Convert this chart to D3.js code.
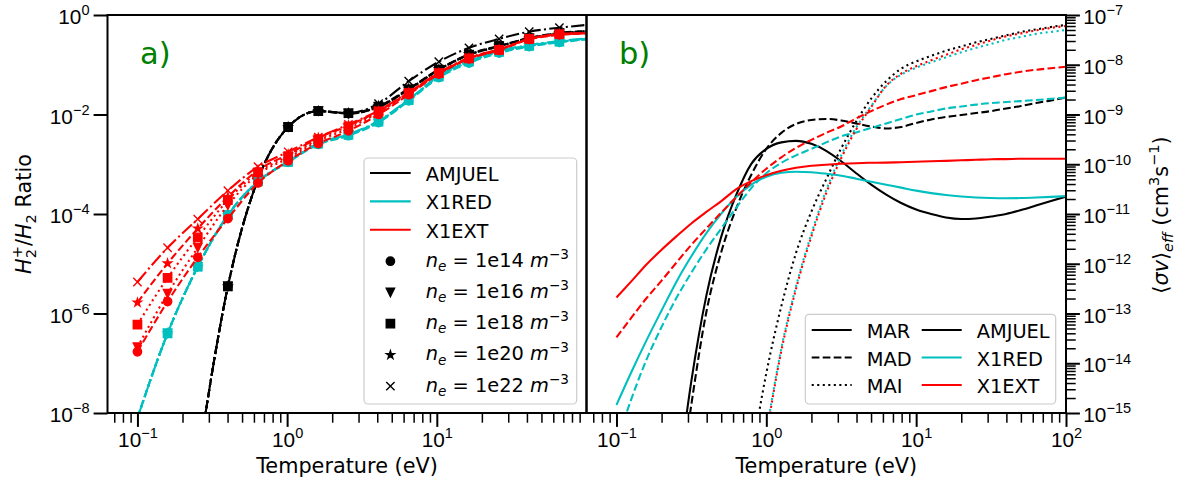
<!DOCTYPE html>
<html>
<head>
<meta charset="utf-8">
<script src="https://cdn.jsdelivr.net/npm/d3@7/dist/d3.min.js"></script>
<style>
  html, body { margin: 0; padding: 0; background: #ffffff; }
  svg { display: block; font-family: "DejaVu Sans", sans-serif; }
  text { white-space: pre; }
</style>
</head>
<body>
<svg id="fig" width="1183" height="483"></svg>
<script>
// ---------- Panel a): H2+/H2 ratio against electron temperature ----------
const ratioT = [0.1, 0.159, 0.253, 0.402, 0.639, 1.016, 1.615, 2.568, 4.081, 6.488, 10.31, 16.40, 26.07, 41.44, 65.9];
const ratioLineEndT = 100;           // lines continue past the last marker to here
const densityLabels = ["1e14", "1e16", "1e18", "1e20", "1e22"];
const modelNames = ["AMJUEL", "X1RED", "X1EXT"];

// rows: n_e = 1e14, 1e16, 1e18, 1e20, 1e22 ; last value of each row is at ratioLineEndT
const ratioAMJUEL = [
  [null, null, 1e-9, 3.5e-6, 5.0e-4, 5.6e-3, 1.17e-2, 1.04e-2, 1.41e-2, 3.16e-2, 7.9e-2, 0.158, 0.234, 0.339, 0.427, 0.468],
  [null, null, 1e-9, 3.5e-6, 5.0e-4, 5.6e-3, 1.17e-2, 1.05e-2, 1.42e-2, 3.18e-2, 7.9e-2, 0.158, 0.234, 0.339, 0.427, 0.468],
  [null, null, 1e-9, 3.5e-6, 5.0e-4, 5.6e-3, 1.17e-2, 1.06e-2, 1.44e-2, 3.2e-2, 8.0e-2, 0.16, 0.236, 0.34, 0.43, 0.47],
  [null, null, 1e-9, 3.5e-6, 5.0e-4, 5.6e-3, 1.17e-2, 1.06e-2, 1.48e-2, 3.3e-2, 8.1e-2, 0.162, 0.24, 0.345, 0.435, 0.475],
  [null, null, 1e-9, 3.5e-6, 5.0e-4, 5.6e-3, 1.17e-2, 1.07e-2, 1.66e-2, 4.68e-2, 0.115, 0.219, 0.331, 0.462, 0.556, 0.631]
];
const ratioX1RED = [
  [7.9e-9, 4.0e-7, 8.7e-6, 9.5e-5, 4.5e-4, 1.10e-3, 2.5e-3, 3.75e-3, 6.9e-3, 1.88e-2, 5.5e-2, 0.108, 0.172, 0.232, 0.282, 0.322],
  [7.9e-9, 4.0e-7, 8.7e-6, 9.5e-5, 4.5e-4, 1.12e-3, 2.6e-3, 3.9e-3, 7.2e-3, 1.95e-2, 5.8e-2, 0.115, 0.182, 0.24, 0.29, 0.33],
  [7.9e-9, 4.0e-7, 8.7e-6, 9.5e-5, 4.5e-4, 1.12e-3, 2.6e-3, 3.9e-3, 7.2e-3, 1.95e-2, 5.8e-2, 0.115, 0.182, 0.24, 0.29, 0.33],
  [7.9e-9, 4.0e-7, 8.7e-6, 9.5e-5, 4.5e-4, 1.12e-3, 2.6e-3, 3.9e-3, 7.3e-3, 1.97e-2, 5.9e-2, 0.117, 0.185, 0.243, 0.293, 0.333],
  [7.9e-9, 4.0e-7, 8.7e-6, 9.5e-5, 4.6e-4, 1.14e-3, 2.65e-3, 4.0e-3, 7.5e-3, 2.0e-2, 6.0e-2, 0.12, 0.19, 0.25, 0.3, 0.34]
];
const ratioX1EXT = [
  [1.7e-7, 1.74e-6, 1.35e-5, 8.1e-5, 4.2e-4, 1.17e-3, 2.6e-3, 4.7e-3, 1.0e-2, 2.5e-2, 6.5e-2, 0.132, 0.195, 0.324, 0.398, 0.427],
  [2.1e-7, 2.5e-6, 2.1e-5, 1.5e-4, 6.3e-4, 1.32e-3, 2.95e-3, 5.2e-3, 1.1e-2, 2.6e-2, 6.6e-2, 0.132, 0.2, 0.33, 0.41, 0.43],
  [6.0e-7, 5.2e-6, 3.4e-5, 1.9e-4, 6.9e-4, 1.45e-3, 3.2e-3, 5.8e-3, 1.15e-2, 2.7e-2, 6.8e-2, 0.135, 0.2, 0.33, 0.41, 0.43],
  [1.66e-6, 1.02e-5, 5.1e-5, 2.2e-4, 7.6e-4, 1.58e-3, 3.4e-3, 6.0e-3, 1.17e-2, 2.75e-2, 6.8e-2, 0.135, 0.2, 0.33, 0.41, 0.43],
  [4.3e-6, 2.1e-5, 7.9e-5, 2.95e-4, 8.9e-4, 1.78e-3, 3.5e-3, 6.3e-3, 1.2e-2, 2.8e-2, 6.9e-2, 0.138, 0.204, 0.33, 0.41, 0.43]
];

// ---------- Panel b): effective rate coefficients <sigma v>_eff (cm^3 s^-1) ----------
const rateT = [0.1, 0.126, 0.158, 0.2, 0.251, 0.316, 0.398, 0.501, 0.631, 0.794,
               1.0, 1.26, 1.58, 2.0, 2.51, 3.16, 3.98, 5.01, 6.31, 7.94,
               10, 12.6, 15.8, 20, 25.1, 31.6, 39.8, 50.1, 63.1, 79.4, 100];
const rateProcesses = ["MAR", "MAD", "MAI"];

const marAMJUEL = [null, null, null, null, 2.5e-17, 4.37e-15, 2.29e-13, 3.55e-12, 2.45e-11, 1.02e-10,
  2.04e-10, 2.75e-10, 2.95e-10, 2.57e-10, 1.86e-10, 1.15e-10, 6.61e-11, 3.89e-11, 2.45e-11, 1.66e-11,
  1.23e-11, 1.0e-11, 8.51e-12, 7.94e-12, 8.13e-12, 8.91e-12, 1.0e-11, 1.2e-11, 1.48e-11, 1.82e-11, 2.24e-11];
const madAMJUEL = [null, null, null, null, 1.0e-17, 1.48e-15, 1.07e-13, 1.74e-12, 1.32e-11, 6.17e-11,
  2.04e-10, 4.27e-10, 6.46e-10, 7.76e-10, 8.13e-10, 7.59e-10, 6.61e-10, 5.75e-10, 5.25e-10, 5.62e-10,
  6.76e-10, 7.94e-10, 8.91e-10, 9.77e-10, 1.07e-9, 1.17e-9, 1.32e-9, 1.48e-9, 1.7e-9, 1.91e-9, 2.19e-9];
const maiAMJUEL = [null, null, null, null, null, null, null, null, null, 1.26e-16,
  6.31e-15, 1.41e-13, 1.66e-12, 1.12e-11, 5.01e-11, 2.09e-10, 7.24e-10, 2.09e-9, 4.68e-9, 8.32e-9,
  1.17e-8, 1.51e-8, 1.91e-8, 2.34e-8, 2.82e-8, 3.31e-8, 3.89e-8, 4.57e-8, 5.13e-8, 5.75e-8, 6.31e-8];

const marX1RED = [1.45e-15, 6.76e-15, 2.82e-14, 1.15e-13, 4.32e-13, 1.41e-12, 4.12e-12, 1.02e-11, 2.19e-11, 3.89e-11,
  5.62e-11, 6.76e-11, 7.08e-11, 6.92e-11, 6.46e-11, 5.89e-11, 5.13e-11, 4.47e-11, 3.89e-11, 3.39e-11,
  2.95e-11, 2.63e-11, 2.4e-11, 2.24e-11, 2.14e-11, 2.09e-11, 2.07e-11, 2.09e-11, 2.14e-11, 2.21e-11, 2.29e-11];
const madX1RED = [2.51e-16, 1.95e-15, 1.15e-14, 5.37e-14, 2.04e-13, 6.61e-13, 1.95e-12, 5.13e-12, 1.35e-11, 3.31e-11,
  6.61e-11, 1.07e-10, 1.51e-10, 2.04e-10, 2.75e-10, 3.63e-10, 4.37e-10, 5.37e-10, 6.61e-10, 8.13e-10,
  1.0e-9, 1.15e-9, 1.32e-9, 1.45e-9, 1.58e-9, 1.7e-9, 1.78e-9, 1.86e-9, 1.95e-9, 2.07e-9, 2.19e-9];
const maiX1RED = [null, null, null, null, null, null, null, null, null, null,
  3.98e-16, 2.0e-14, 3.55e-13, 3.98e-12, 3.02e-11, 1.51e-10, 5.5e-10, 1.48e-9, 3.72e-9, 6.31e-9,
  8.71e-9, 1.12e-8, 1.41e-8, 1.78e-8, 2.19e-8, 2.63e-8, 3.16e-8, 3.63e-8, 4.17e-8, 4.57e-8, 5.01e-8];

const marX1EXT = [2.09e-13, 4.47e-13, 9.55e-13, 1.91e-12, 3.55e-12, 6.46e-12, 1.1e-11, 1.82e-11, 3.16e-11, 4.57e-11,
  6.03e-11, 7.41e-11, 8.51e-11, 9.33e-11, 9.77e-11, 1.02e-10, 1.05e-10, 1.07e-10, 1.08e-10, 1.1e-10,
  1.12e-10, 1.15e-10, 1.17e-10, 1.2e-10, 1.23e-10, 1.26e-10, 1.27e-10, 1.29e-10, 1.29e-10, 1.29e-10, 1.29e-10];
const madX1EXT = [3.31e-14, 8.32e-14, 2.0e-13, 4.57e-13, 1.05e-12, 2.4e-12, 5.13e-12, 1.07e-11, 2.19e-11, 4.37e-11,
  8.13e-11, 1.38e-10, 2.14e-10, 3.09e-10, 4.27e-10, 5.75e-10, 8.32e-10, 1.17e-9, 1.58e-9, 2.04e-9,
  2.45e-9, 2.95e-9, 3.55e-9, 4.17e-9, 4.9e-9, 5.62e-9, 6.46e-9, 7.24e-9, 7.94e-9, 8.51e-9, 9.12e-9];
const maiX1EXT = [null, null, null, null, null, null, null, null, null, null,
  3.55e-16, 1.78e-14, 3.16e-13, 3.55e-12, 2.63e-11, 1.32e-10, 5.01e-10, 1.41e-9, 3.8e-9, 6.61e-9,
  9.33e-9, 1.23e-8, 1.58e-8, 2.04e-8, 2.51e-8, 3.09e-8, 3.72e-8, 4.27e-8, 4.9e-8, 5.5e-8, 6.03e-8];

// ---------- styling ----------
const modelColors = { AMJUEL: "#000000", X1RED: "#00bfbf", X1EXT: "#ff0000" };
const LW = 2.08;
const DASH = {
  solid: null,
  dashed: [7.7, 3.3],
  dotted: [2.08, 3.44],
  dashdot: [13.3, 3.3, 2.08, 3.3]
};
const densityStyle = ["dashed", "dotted", "dotted", "dashed", "dashdot"];
const densityMarker = ["circle", "tridown", "square", "star", "x"];
const processStyle = { MAR: "solid", MAD: "dashed", MAI: "dotted" };
const FS = 20.8, LEGFS = 19.4;
const MS = 8.33;   // marker size (px)

const svg = d3.select("#fig");
const boxA = { l: 107.5, r: 586.5, t: 15, b: 413 };
const boxB = { l: 586.5, r: 1066, t: 15, b: 413 };
const tDomain = [Math.pow(10, -1.2), 100];

const xA = d3.scaleLog().domain(tDomain).range([boxA.l, boxA.r]);
const xB = d3.scaleLog().domain(tDomain).range([boxB.l, boxB.r]);
const yA = d3.scaleLog().domain([1e-8, 1]).range([boxA.b, boxA.t]);
const yB = d3.scaleLog().domain([1e-15, 1e-7]).range([boxB.b, boxB.t]);

const defs = svg.append("defs");
defs.append("clipPath").attr("id", "clipA").append("rect")
  .attr("x", boxA.l).attr("y", boxA.t).attr("width", boxA.r - boxA.l).attr("height", boxA.b - boxA.t);
defs.append("clipPath").attr("id", "clipB").append("rect")
  .attr("x", boxB.l).attr("y", boxB.t).attr("width", boxB.r - boxB.l).attr("height", boxB.b - boxB.t);

// marker shapes, drawn at size s (px)
const markerTypes = {
  circle: { draw(c, s) { c.moveTo(s / 2, 0); c.arc(0, 0, s / 2, 0, 2 * Math.PI); } },
  tridown: { draw(c, s) { c.moveTo(0, s / 2); c.lineTo(-s / 2, -s / 2); c.lineTo(s / 2, -s / 2); c.closePath(); } },
  square: { draw(c, s) { c.rect(-s / 2, -s / 2, s, s); } },
  star: { draw(c, s) {
    const R = s / 2, r = R * 0.381966;
    for (let i = 0; i < 10; i++) {
      const a = -Math.PI / 2 + i * Math.PI / 5, rr = i % 2 ? r : R;
      const px = rr * Math.cos(a), py = rr * Math.sin(a);
      if (i === 0) c.moveTo(px, py); else c.lineTo(px, py);
    }
    c.closePath();
  } },
  x: { draw(c, s) { c.moveTo(-s / 2, -s / 2); c.lineTo(s / 2, s / 2); c.moveTo(-s / 2, s / 2); c.lineTo(s / 2, -s / 2); } }
};
function drawMarker(g, kind, x, y, color) {
  const p = g.append("path")
    .attr("d", d3.symbol().type(markerTypes[kind]).size(MS)())
    .attr("transform", `translate(${x},${y})`);
  if (kind === "x") p.attr("fill", "none").attr("stroke", color).attr("stroke-width", 1.39);
  else p.attr("fill", color).attr("stroke", color).attr("stroke-width", 1.39).attr("stroke-linejoin", "miter");
  return p;
}
function styleLine(sel, color, style) {
  sel.attr("fill", "none").attr("stroke", color).attr("stroke-width", LW)
    .attr("stroke-linecap", "butt").attr("stroke-linejoin", "round");
  if (DASH[style]) sel.attr("stroke-dasharray", DASH[style].join(","));
  return sel;
}

// ---------- panel a) series ----------
const gA = svg.append("g").attr("clip-path", "url(#clipA)");
const lineA = d3.line().defined(d => d[1] != null)
  .x(d => xA(d[0])).y(d => yA(d[1])).curve(d3.curveMonotoneX);
const ratioByModel = { AMJUEL: ratioAMJUEL, X1RED: ratioX1RED, X1EXT: ratioX1EXT };
const lineT = ratioT.concat([ratioLineEndT]);
modelNames.forEach(m => {
  ratioByModel[m].forEach((row, di) => {
    const pts = lineT.map((t, i) => [t, row[i]]);
    styleLine(gA.append("path").attr("d", lineA(pts)), modelColors[m], densityStyle[di]);
    ratioT.forEach((t, i) => {
      if (row[i] != null) drawMarker(gA, densityMarker[di], xA(t), yA(row[i]), modelColors[m]);
    });
  });
});

// ---------- panel b) series ----------
const gB = svg.append("g").attr("clip-path", "url(#clipB)");
const lineB = d3.line().defined(d => d[1] != null)
  .x(d => xB(d[0])).y(d => yB(d[1])).curve(d3.curveMonotoneX);
const rateSeries = [
  ["AMJUEL", "MAR", marAMJUEL], ["AMJUEL", "MAD", madAMJUEL], ["AMJUEL", "MAI", maiAMJUEL],
  ["X1RED", "MAR", marX1RED], ["X1RED", "MAD", madX1RED], ["X1RED", "MAI", maiX1RED],
  ["X1EXT", "MAR", marX1EXT], ["X1EXT", "MAD", madX1EXT], ["X1EXT", "MAI", maiX1EXT]
];
rateSeries.forEach(([m, p, vals]) => {
  const pts = rateT.map((t, i) => [t, vals[i]]);
  styleLine(gB.append("path").attr("d", lineB(pts)), modelColors[m], processStyle[p]);
});

// ---------- axes ----------
function powerLabel(textSel, exp, size) {
  textSel.append("tspan").text("10");
  textSel.append("tspan").attr("font-size", size * 0.7).attr("dy", -size * 0.42)
    .text(exp < 0 ? "\u2212" + (-exp) : String(exp));
}
function minorLog(lo, hi, domain) {
  const out = [];
  for (let e = lo; e <= hi; e++) for (let d = 2; d <= 9; d++) {
    const v = d * Math.pow(10, e);
    if (v > domain[0] && v < domain[1]) out.push(v);
  }
  return out;
}
const MAJ = 13.9, MIN = 9.7;
function styleAxis(g, w) {
  g.select(".domain").remove();
  g.selectAll(".tick line").attr("stroke", "#000").attr("stroke-width", w);
  g.selectAll(".tick text").remove();
}

const xMinor = minorLog(-2, 1, tDomain);
// panel a x axis
let g = svg.append("g").attr("transform", `translate(0,${boxA.b})`)
  .call(d3.axisBottom(xA).tickValues(xMinor.filter(v => v < 99)).tickSize(MIN).tickFormat(""));
styleAxis(g, 1.5);
g = svg.append("g").attr("transform", `translate(0,${boxA.b})`)
  .call(d3.axisBottom(xA).tickValues([0.1, 1, 10]).tickSize(MAJ).tickFormat(""));
styleAxis(g, 2);
g.selectAll(".tick").each(function (d) {
  const t = d3.select(this).append("text").attr("x", 0).attr("y", 33.5)
    .attr("text-anchor", "middle").attr("font-size", FS).attr("fill", "#000");
  powerLabel(t, Math.round(Math.log10(d)), FS);
});
// panel b x axis
g = svg.append("g").attr("transform", `translate(0,${boxB.b})`)
  .call(d3.axisBottom(xB).tickValues(xMinor).tickSize(MIN).tickFormat(""));
styleAxis(g, 1.5);
g = svg.append("g").attr("transform", `translate(0,${boxB.b})`)
  .call(d3.axisBottom(xB).tickValues([0.1, 1, 10, 100]).tickSize(MAJ).tickFormat(""));
styleAxis(g, 2);
g.selectAll(".tick").each(function (d) {
  const t = d3.select(this).append("text").attr("x", 0).attr("y", 33.5)
    .attr("text-anchor", "middle").attr("font-size", FS).attr("fill", "#000");
  powerLabel(t, Math.round(Math.log10(d)), FS);
});
// panel a y axis (left)
g = svg.append("g").attr("transform", `translate(${boxA.l},0)`)
  .call(d3.axisLeft(yA).tickValues([1e-8, 1e-6, 1e-4, 1e-2, 1]).tickSize(MAJ).tickFormat(""));
styleAxis(g, 2);
g.selectAll(".tick").each(function (d) {
  const t = d3.select(this).append("text").attr("x", -18).attr("y", 8.6)
    .attr("text-anchor", "end").attr("font-size", FS).attr("fill", "#000");
  powerLabel(t, Math.round(Math.log10(d)), FS);
});
// panel b y axis (right)
g = svg.append("g").attr("transform", `translate(${boxB.r},0)`)
  .call(d3.axisRight(yB).tickValues(minorLog(-15, -8, [1e-15, 1e-7])).tickSize(MIN).tickFormat(""));
styleAxis(g, 1.5);
g = svg.append("g").attr("transform", `translate(${boxB.r},0)`)
  .call(d3.axisRight(yB).tickValues(d3.range(-15, -6).map(e => Math.pow(10, e))).tickSize(MAJ).tickFormat(""));
styleAxis(g, 2);
g.selectAll(".tick").each(function (d) {
  const t = d3.select(this).append("text").attr("x", 17.3).attr("y", 8.6)
    .attr("text-anchor", "start").attr("font-size", FS).attr("fill", "#000");
  powerLabel(t, Math.round(Math.log10(d)), FS);
});

// spines
[boxA, boxB].forEach(b => {
  svg.append("rect").attr("x", b.l).attr("y", b.t).attr("width", b.r - b.l).attr("height", b.b - b.t)
    .attr("fill", "none").attr("stroke", "#000").attr("stroke-width", 2);
});

// axis titles
[boxA, boxB].forEach(b => {
  svg.append("text").attr("x", (b.l + b.r) / 2).attr("y", 473).attr("text-anchor", "middle")
    .attr("font-size", FS).text("Temperature (eV)");
});
const yl = svg.append("text").attr("transform", "translate(31,214) rotate(-90)")
  .attr("text-anchor", "middle").attr("font-size", FS);
yl.append("tspan").attr("font-style", "italic").text("H");
yl.append("tspan").attr("font-size", FS * 0.7).attr("dy", FS * 0.22).text("2");
yl.append("tspan").attr("font-size", FS * 0.7).attr("dx", -FS * 0.7 * 0.636).attr("dy", -FS * 0.66).text("+");
yl.append("tspan").attr("dy", FS * 0.44).text("/");
yl.append("tspan").attr("font-style", "italic").text("H");
yl.append("tspan").attr("font-size", FS * 0.7).attr("dy", FS * 0.22).text("2");
yl.append("tspan").attr("dy", -FS * 0.22).text(" Ratio");

const rl = svg.append("text").attr("transform", "translate(1168,215) rotate(-90)")
  .attr("text-anchor", "middle").attr("font-size", FS);
rl.append("tspan").text("\u27E8");
rl.append("tspan").attr("font-style", "italic").text("\u03C3v");
rl.append("tspan").text("\u27E9");
rl.append("tspan").attr("font-size", FS * 0.7).attr("font-style", "italic").attr("dy", FS * 0.22).text("eff");
rl.append("tspan").attr("dy", -FS * 0.22).text(" (cm");
rl.append("tspan").attr("font-size", FS * 0.7).attr("dy", -FS * 0.42).text("3");
rl.append("tspan").attr("dy", FS * 0.42).text("s");
rl.append("tspan").attr("font-size", FS * 0.7).attr("dy", -FS * 0.42).text("\u22121");
rl.append("tspan").attr("dy", FS * 0.42).text(")");

// panel tags
svg.append("text").attr("x", 140).attr("y", 64).attr("font-size", 30.5).attr("fill", "#008000").text("a)");
svg.append("text").attr("x", 619).attr("y", 64).attr("font-size", 30.5).attr("fill", "#008000").text("b)");

// ---------- legends ----------
function legendFrame(x0, y0, x1, y1) {
  svg.append("rect").attr("x", x0).attr("y", y0).attr("width", x1 - x0).attr("height", y1 - y0)
    .attr("rx", 4).attr("fill", "#ffffff").attr("fill-opacity", 0.8)
    .attr("stroke", "#cccccc").attr("stroke-width", 1.2);
}
// panel a legend
legendFrame(364, 158, 576.7, 404);
const legA = svg.append("g");
modelNames.forEach((m, i) => {
  const yb = 181 + 28.35 * i;
  styleLine(legA.append("line").attr("x1", 370).attr("x2", 410.7).attr("y1", yb - 8).attr("y2", yb - 8), modelColors[m], "solid");
  legA.append("text").attr("x", 425.7).attr("y", yb).attr("font-size", LEGFS).text(m);
});
densityLabels.forEach((lab, i) => {
  const yb = 266.7 + 31.25 * i;
  drawMarker(legA, densityMarker[i], 390.4, yb - 5.5, "#000");
  const t = legA.append("text").attr("x", 425.7).attr("y", yb).attr("font-size", LEGFS);
  t.append("tspan").attr("font-style", "italic").text("n");
  t.append("tspan").attr("font-style", "italic").attr("font-size", LEGFS * 0.7).attr("dy", LEGFS * 0.22).text("e");
  t.append("tspan").attr("dy", -LEGFS * 0.22).text(" = " + lab + " ");
  t.append("tspan").attr("font-style", "italic").text("m");
  t.append("tspan").attr("font-size", LEGFS * 0.7).attr("dy", -LEGFS * 0.42).text("\u22123");
});
// panel b legend (two columns)
legendFrame(805.3, 314.3, 1055.7, 404);
const legB = svg.append("g");
rateProcesses.forEach((p, i) => {
  const yb = 338.3 + 27.5 * i;
  styleLine(legB.append("line").attr("x1", 811.7).attr("x2", 851.7).attr("y1", yb - 8.3).attr("y2", yb - 8.3), "#000", processStyle[p]);
  legB.append("text").attr("x", 866.7).attr("y", yb).attr("font-size", LEGFS).text(p);
});
modelNames.forEach((m, i) => {
  const yb = 338.3 + 27.5 * i;
  styleLine(legB.append("line").attr("x1", 921.7).attr("x2", 961.7).attr("y1", yb - 8.3).attr("y2", yb - 8.3), modelColors[m], "solid");
  legB.append("text").attr("x", 976.7).attr("y", yb).attr("font-size", LEGFS).text(m);
});
</script>
</body>
</html>
